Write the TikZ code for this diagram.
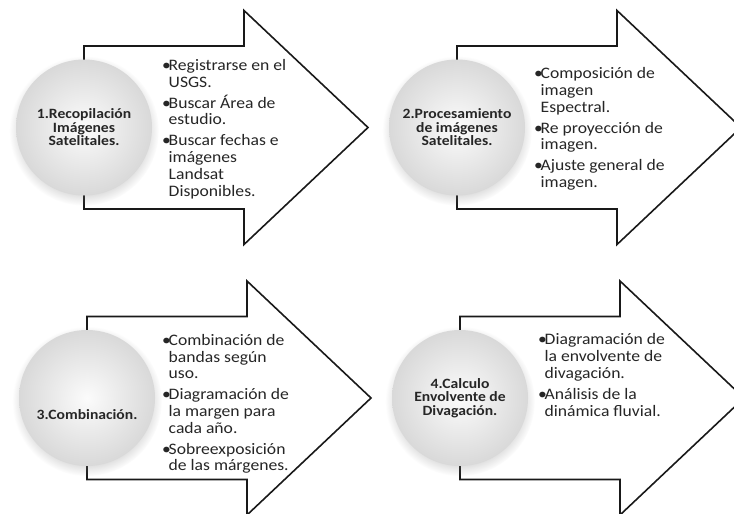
\documentclass[tikz,border=0pt]{standalone}
\usepackage{fontspec}
\setmainfont{Carlito}
\newfontfamily\estirada[FakeStretch=1.1]{Carlito}
\usetikzlibrary{positioning,shadows}

\newcommand{\bitem}{\makebox[6.5pt][l]{\textbullet}}
\newcommand{\bcont}{\hspace*{6.5pt}}

\begin{document}
\begin{tikzpicture}[x=1pt,y=-1pt,
        flecha/.style={draw=black!90,line width=1.6pt,fill=white,line join=miter},
        etapa/.style={circle,minimum size=136pt,inner sep=0pt,inner color=gray!3,outer color=gray!30,
            circular drop shadow={shadow xshift=0pt,shadow yshift=-3pt,opacity=0.25},
            align=center,font=\estirada\fontsize{14.2}{13.5}\selectfont\bfseries,text=black!85},
        lista/.style={anchor=west,inner sep=0pt,align=left,font=\estirada\fontsize{16}{16.7}\selectfont,text=black!85}]
    \useasboundingbox (0,0) rectangle (734,514);
    \coordinate (p1) at (84,127.5);
    \coordinate (p2) at (457,127.5);
    \coordinate (p3) at (87,398);
    \coordinate (p4) at (460,398);

    % flechas
    \draw[flecha] (p1) ++(0,-81.5) -- ++(160,0) -- ++(0,-35.5) -- ++(124,117) -- ++(-124,117) -- ++(0,-35.5) -- ++(-160,0) -- cycle;
    \draw[flecha] (p2) ++(0,-81.5) -- ++(160,0) -- ++(0,-35.5) -- ++(124,117) -- ++(-124,117) -- ++(0,-35.5) -- ++(-160,0) -- cycle;
    \draw[flecha] (p3) ++(0,-81.5) -- ++(160,0) -- ++(0,-35.5) -- ++(124,117) -- ++(-124,117) -- ++(0,-35.5) -- ++(-160,0) -- cycle;
    \draw[flecha] (p4) ++(0,-81.5) -- ++(160,0) -- ++(0,-35.5) -- ++(124,117) -- ++(-124,117) -- ++(0,-35.5) -- ++(-160,0) -- cycle;

    % etapas
    \node[etapa] (e1) at (p1) {1.Recopilación\\Imágenes\\Satelitales.};
    \node[etapa] (e2) at (p2) {2.Procesamiento\\de imágenes\\Satelitales.};
    \node[etapa] (e3) at (p3) {};
    \node (t3) at (87,415) [font=\estirada\fontsize{14.2}{13.5}\selectfont\bfseries,text=black!85] {3.Combinación.};
    \node[etapa] (e4) at (p4) {4.Calculo\\Envolvente de\\Divagación.};

    % listas
    \node[lista] (l1) at (162,129) {\bitem Registrarse en el\\ \bcont USGS.\\[4.3pt]
        \bitem Buscar Área de\\ \bcont estudio.\\[4.3pt]
        \bitem Buscar fechas e\\ \bcont imágenes\\ \bcont Landsat\\ \bcont Disponibles.};
    \node[lista] (l2) at (534,129) {\bitem Composición de\\ \bcont imagen\\ \bcont Espectral.\\[4.3pt]
        \bitem Re proyección de\\ \bcont imagen.\\[4.3pt]
        \bitem Ajuste general de\\ \bcont imagen.};
    \node[lista] (l3) at (162,404) {\bitem Combinación de\\ \bcont bandas según\\ \bcont uso.\\[4.3pt]
        \bitem Diagramación de\\ \bcont la margen para\\ \bcont cada año.\\[4.3pt]
        \bitem Sobreexposición\\ \bcont de las márgenes.};
    \node[lista] (l4) at (538,375) {\bitem Diagramación de\\ \bcont la envolvente de\\ \bcont divagación.\\[4.3pt]
        \bitem Análisis de la\\ \bcont dinámica fluvial.};
\end{tikzpicture}
\end{document}
